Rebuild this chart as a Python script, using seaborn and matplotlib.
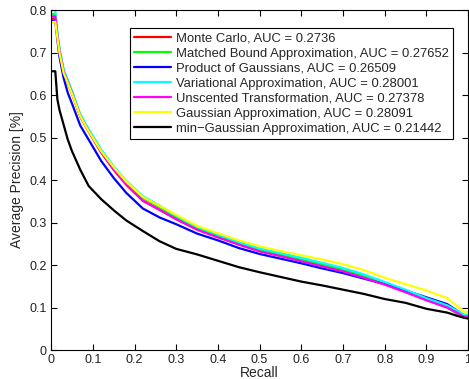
import numpy as np
import pandas as pd
import matplotlib
matplotlib.use('Agg')
import matplotlib.pyplot as plt
import seaborn as sns

# recall grid shared by all curves
recall = [0.0, 0.01, 0.015, 0.02, 0.03, 0.04, 0.05, 0.07, 0.09, 0.12, 0.15, 0.18,
          0.22, 0.26, 0.30, 0.35, 0.40, 0.45, 0.50, 0.55, 0.60, 0.65, 0.70, 0.75,
          0.80, 0.85, 0.90, 0.95, 0.975, 0.99, 1.0]

monte_carlo = [0.780, 0.780, 0.738, 0.703, 0.653, 0.628, 0.603, 0.549, 0.514, 0.465, 0.424,
               0.389, 0.351, 0.330, 0.308, 0.284, 0.266, 0.249, 0.233, 0.222, 0.210, 0.198,
               0.186, 0.171, 0.155, 0.137, 0.118, 0.100, 0.086, 0.077, 0.077]
matched_bound = [0.790, 0.790, 0.742, 0.708, 0.658, 0.632, 0.607, 0.552, 0.517, 0.470, 0.430,
                 0.395, 0.358, 0.336, 0.313, 0.287, 0.269, 0.251, 0.236, 0.225, 0.213, 0.201,
                 0.189, 0.174, 0.157, 0.139, 0.119, 0.100, 0.085, 0.076, 0.076]
product_gauss = [0.775, 0.775, 0.730, 0.690, 0.640, 0.605, 0.580, 0.528, 0.495, 0.445, 0.405,
                 0.370, 0.333, 0.312, 0.296, 0.274, 0.258, 0.240, 0.226, 0.215, 0.204, 0.192,
                 0.181, 0.168, 0.155, 0.140, 0.124, 0.108, 0.092, 0.082, 0.082]
variational = [0.800, 0.800, 0.745, 0.710, 0.660, 0.635, 0.610, 0.555, 0.520, 0.472, 0.432,
               0.398, 0.362, 0.340, 0.316, 0.290, 0.272, 0.254, 0.239, 0.228, 0.217, 0.205,
               0.193, 0.178, 0.160, 0.142, 0.122, 0.105, 0.092, 0.083, 0.083]
unscented = [0.785, 0.785, 0.740, 0.705, 0.655, 0.630, 0.605, 0.550, 0.515, 0.466, 0.425,
             0.390, 0.352, 0.330, 0.308, 0.283, 0.265, 0.248, 0.232, 0.221, 0.209, 0.197,
             0.185, 0.170, 0.154, 0.136, 0.117, 0.100, 0.087, 0.078, 0.078]
gaussian = [0.772, 0.772, 0.735, 0.700, 0.652, 0.628, 0.603, 0.550, 0.515, 0.468, 0.430,
            0.396, 0.360, 0.339, 0.318, 0.292, 0.275, 0.258, 0.244, 0.233, 0.223, 0.213,
            0.202, 0.188, 0.170, 0.155, 0.140, 0.122, 0.102, 0.090, 0.090]
min_gaussian = [0.656, 0.656, 0.590, 0.565, 0.530, 0.495, 0.468, 0.424, 0.386, 0.355, 0.329,
                0.305, 0.280, 0.256, 0.238, 0.225, 0.210, 0.195, 0.183, 0.172, 0.161, 0.152,
                0.142, 0.132, 0.120, 0.111, 0.097, 0.088, 0.080, 0.076, 0.074]

labels = ['Monte Carlo, AUC = 0.2736',
          'Matched Bound Approximation, AUC = 0.27652',
          'Product of Gaussians, AUC = 0.26509',
          'Variational Approximation, AUC = 0.28001',
          'Unscented Transformation, AUC = 0.27378',
          'Gaussian Approximation, AUC = 0.28091',
          'min\u2212Gaussian Approximation, AUC = 0.21442']
colors = ['#ff0000', '#00ff00', '#0000ff', '#00ffff', '#ff00ff', '#ffff00', '#000000']
series = [monte_carlo, matched_bound, product_gauss, variational, unscented, gaussian, min_gaussian]

rows = []
for lab, vals in zip(labels, series):
    for r, p in zip(recall, vals):
        rows.append({'recall': r, 'precision': p, 'method': lab})
df = pd.DataFrame(rows)

sns.set_style('ticks')
plt.rcParams['font.family'] = ['Liberation Sans', 'DejaVu Sans']

fig = plt.figure(figsize=(4.69, 3.79), dpi=100)
ax = fig.add_axes([0.109, 0.0765, 0.889, 0.897])

sns.lineplot(data=df, x='recall', y='precision', hue='method', hue_order=labels,
             palette=colors, estimator=None, sort=False, linewidth=1.6, ax=ax)

ax.set_xlim(0, 1)
ax.set_ylim(0, 0.8)
ax.set_xticks(np.arange(0, 1.01, 0.1))
ax.set_xticklabels(['0', '0.1', '0.2', '0.3', '0.4', '0.5', '0.6', '0.7', '0.8', '0.9', '1'])
ax.set_yticks(np.arange(0, 0.81, 0.1))
ax.set_yticklabels(['0', '0.1', '0.2', '0.3', '0.4', '0.5', '0.6', '0.7', '0.8'])
ax.tick_params(direction='in', length=4, width=0.8, top=True, right=True,
               labelsize=9, colors='black', labelcolor='#222222', pad=3)
for s in ax.spines.values():
    s.set_visible(True)
    s.set_linewidth(0.8)
    s.set_color('black')

ax.set_xlabel('Recall', fontsize=10, labelpad=0)
ax.set_ylabel('Average Precision [%]', fontsize=10, labelpad=4)

leg = ax.legend(loc='upper right', bbox_to_anchor=(0.965, 0.947), fontsize=9.4,
                frameon=True, fancybox=False, framealpha=1, edgecolor='black',
                handlelength=2.8, handletextpad=0.4, labelspacing=0.22,
                borderpad=0.35, borderaxespad=0)
leg.get_frame().set_linewidth(0.8)

fig.savefig('out.png', dpi=100)
